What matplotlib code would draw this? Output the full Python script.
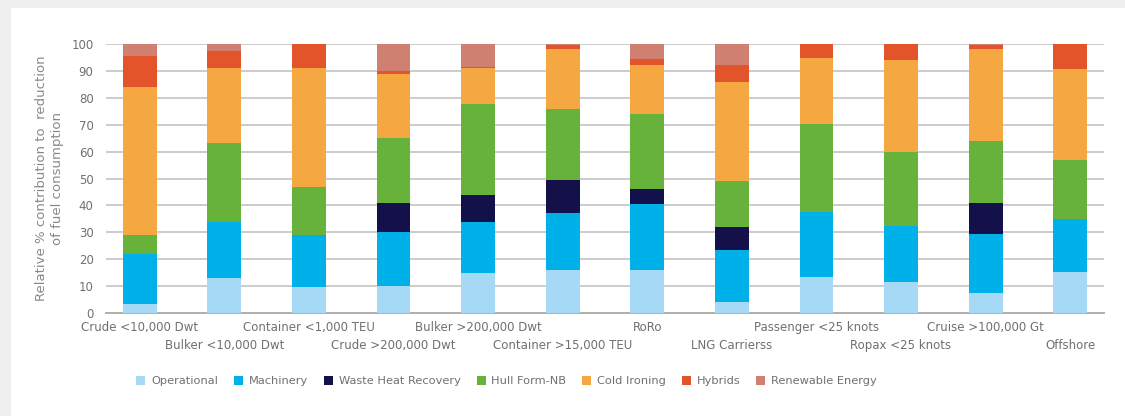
import numpy as np
import matplotlib.pyplot as plt

ship_types = ["Crude <10,000 Dwt", "Bulker <10,000 Dwt", "Container <1,000 TEU",
              "Crude >200,000 Dwt", "Bulker >200,000 Dwt", "Container >15,000 TEU",
              "RoRo", "LNG Carrierss", "Passenger <25 knots", "Ropax <25 knots",
              "Cruise >100,000 Gt", "Offshore"]

operational = [3.5, 13.0, 9.7, 10.1, 14.9, 16.1, 16.1, 4.2, 13.5, 11.5, 7.5, 15.3]
machinery = [18.4, 20.8, 19.4, 19.9, 18.9, 21.0, 24.4, 19.1, 24.2, 21.0, 21.7, 19.7]
waste_heat = [0, 0, 0, 10.8, 9.9, 12.4, 5.7, 8.5, 0, 0, 11.8, 0]
hull_form = [7.2, 29.3, 17.7, 24.4, 34.0, 26.2, 27.6, 17.1, 32.7, 27.5, 23.0, 21.8]
cold_ironing = [55.1, 27.9, 44.2, 23.7, 13.3, 22.4, 18.5, 36.9, 24.5, 34.1, 34.1, 34.0]
hybrids = [11.3, 6.3, 9.0, 1.0, 0.4, 1.5, 2.0, 6.3, 5.1, 5.9, 1.5, 9.2]
renewable = [4.5, 2.7, 0, 10.1, 8.7, 0.4, 5.7, 7.9, 0, 0, 0.4, 0]

series = [
    ("Operational", operational, "#a6d9f5"),
    ("Machinery", machinery, "#00b0e8"),
    ("Waste Heat Recovery", waste_heat, "#13104a"),
    ("Hull Form-NB", hull_form, "#66b23a"),
    ("Cold Ironing", cold_ironing, "#f5a742"),
    ("Hybrids", hybrids, "#e3542a"),
    ("Renewable Energy", renewable, "#d08070"),
]

fig = plt.figure(figsize=(11.25, 4.16), dpi=100, facecolor="#efefef")
# white panel on the grey page
fig.patches.append(plt.Rectangle((11 / 1125, 0), 1 - 11 / 1125, 1 - 8 / 416,
                                 transform=fig.transFigure, facecolor="white",
                                 edgecolor="none", zorder=-5))

ax = fig.add_axes([106 / 1125, 103 / 416, 998 / 1125, 269 / 416])
ax.set_facecolor("white")

x = np.arange(len(ship_types))
bottom = np.zeros(len(ship_types))
for name, vals, color in series:
    vals = np.array(vals)
    ax.bar(x, vals, width=0.40, bottom=bottom, color=color, label=name, zorder=3)
    bottom += vals

ax.set_xlim(-0.4, 11.4)
ax.set_ylim(0, 100)
ax.set_yticks(range(0, 101, 10))
ax.yaxis.grid(True, color="#c8c8c8", linewidth=1.3, zorder=0)
ax.set_axisbelow(True)
for s in ["top", "right", "left"]:
    ax.spines[s].set_visible(False)
ax.spines["bottom"].set_color("#b0b0b0")
ax.spines["bottom"].set_linewidth(1.4)
ax.tick_params(axis="both", length=0, colors="#707070", labelsize=8.5, pad=9)

ax.set_xticks(x)
ax.set_xticklabels([])
for i, lab in enumerate(ship_types):
    yoff = -0.055 if i % 2 == 0 else -0.12
    ax.text(i, yoff, lab, transform=ax.get_xaxis_transform(), ha="center",
            va="center", fontsize=8.5, color="#707070")

ax.set_ylabel("Relative % contribution to  reduction\nof fuel consumption",
              fontsize=9.5, color="#888888", linespacing=1.35, labelpad=5)

handles, labels = ax.get_legend_handles_labels()
fig.legend(handles, labels, loc="center left", bbox_to_anchor=(126 / 1125, 1 - 381 / 416),
           ncol=7, frameon=False, fontsize=8.2, labelcolor="#707070",
           handlelength=0.8, handleheight=0.8, handletextpad=0.5, columnspacing=1.4)

fig.savefig("out.png", dpi=100, facecolor=fig.get_facecolor())
